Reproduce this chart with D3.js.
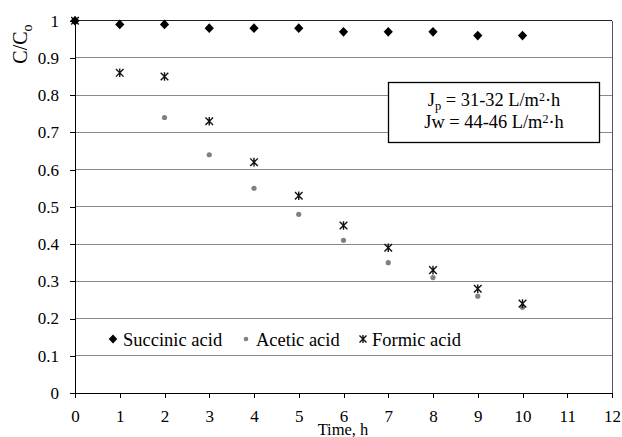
<!DOCTYPE html>
<html><head><meta charset="utf-8">
<script src="https://cdn.jsdelivr.net/npm/d3@7"></script>
<style>body{margin:0;background:#fff}svg{display:block}svg text{font-family:'Liberation Serif','Times New Roman',Times,serif !important}</style>
</head><body>
<svg id="c" width="622" height="437"></svg>
<script>
const hours = [0,1,2,3,4,5,6,7,8,9,10];
const succinic = [1,0.99,0.99,0.98,0.98,0.98,0.97,0.97,0.97,0.96,0.96];
const aceticHours = [0,2,3,4,5,6,7,8,9,10];
const acetic = [1,0.74,0.64,0.55,0.48,0.41,0.35,0.31,0.26,0.23];
const formic = [1,0.86,0.85,0.73,0.62,0.53,0.45,0.39,0.33,0.28,0.24];
const xTicks = [0,1,2,3,4,5,6,7,8,9,10,11,12];
const yTicks = [0,0.1,0.2,0.3,0.4,0.5,0.6,0.7,0.8,0.9,1];
const seriesNames = ["Succinic acid","Acetic acid","Formic acid"];

const svg = d3.select("#c");
const x = d3.scaleLinear().domain([0,12]).range([75,612]);
const y = d3.scaleLinear().domain([0,1]).range([393,20.7]);

// gridlines
svg.append("g").selectAll("line").data(yTicks.filter(d=>d>0)).join("line")
  .attr("x1",x(0)).attr("x2",x(12)).attr("y1",d=>y(d)).attr("y2",d=>y(d))
  .attr("stroke",d=>d===1?"#222":"#8a8a8a").attr("stroke-width",1).attr("shape-rendering","crispEdges");
svg.append("line").attr("x1",x(12)).attr("x2",x(12)).attr("y1",y(1)).attr("y2",y(0))
  .attr("stroke","#555").attr("shape-rendering","crispEdges");

// axes
const xAxis = d3.axisBottom(x).tickValues(xTicks).tickFormat(d3.format("d")).tickSize(5).tickPadding(12);
const gx = svg.append("g").attr("transform",`translate(0,${y(0)})`).call(xAxis);
const yAxis = d3.axisLeft(y).tickValues(yTicks).tickFormat(d=>d===0||d===1?String(d):d3.format(".1f")(d)).tickSize(5).tickPadding(11);
const gy = svg.append("g").attr("transform",`translate(${x(0)},0)`).call(yAxis);
[gx,gy].forEach(g=>{
  g.attr("font-family",null).attr("font-size",17);
  g.selectAll("path").attr("stroke","#000").attr("shape-rendering","crispEdges");
  g.selectAll("line").attr("stroke","#000").attr("shape-rendering","crispEdges");
  g.selectAll("text").attr("font-size",17).attr("fill","#000");
});
gx.select(".domain").attr("d",`M${x(0)},0H${x(12)}`);
gy.select(".domain").attr("d",`M0,${y(0)}V${y(1)}`);

// axis titles
svg.append("text").attr("x",343).attr("y",435).attr("text-anchor","middle").attr("font-size",16.5).text("Time, h");
const yl = svg.append("text").attr("transform","translate(27,44) rotate(-90)").attr("text-anchor","middle").attr("font-size",20);
yl.append("tspan").text("C/C");
yl.append("tspan").attr("font-size",14).attr("dy",5).text("o");

// annotation box
svg.append("rect").attr("x",388.5).attr("y",82.5).attr("width",211).attr("height",60)
  .attr("fill","#fff").attr("stroke","#000").attr("stroke-width",1.3);
const t1 = svg.append("text").attr("x",494).attr("y",105.5).attr("text-anchor","middle").attr("font-size",18.4);
t1.append("tspan").text("J");
t1.append("tspan").attr("font-size",12.5).attr("dy",4).text("p");
t1.append("tspan").attr("dy",-4).text(" = 31-32 L/m");
t1.append("tspan").attr("font-size",12).attr("dy",-5).text("2");
t1.append("tspan").attr("dy",5).text("·h");
const t2 = svg.append("text").attr("x",494).attr("y",128).attr("text-anchor","middle").attr("font-size",18.4);
t2.append("tspan").text("Jw = 44-46 L/m");
t2.append("tspan").attr("font-size",12).attr("dy",-5).text("2");
t2.append("tspan").attr("dy",5).text("·h");

// markers
const diamondPath = (w,h) => `M0,${-h}L${w},0L0,${h}L${-w},0Z`;
function drawStar(g, cx, cy, r){
  const p = `M${cx-r},${cy-r}L${cx+r},${cy+r}M${cx-r},${cy+r}L${cx+r},${cy-r}M${cx},${cy-r-0.5}L${cx},${cy+r+0.5}`;
  g.append("path").attr("d",p).attr("stroke","#111").attr("stroke-width",1.4).attr("fill","none");
}
svg.append("g").selectAll("circle").data(aceticHours.map((h,i)=>[h,acetic[i]])).join("circle")
  .attr("cx",d=>x(d[0])).attr("cy",d=>y(d[1])).attr("r",2.6).attr("fill","#808080");
const gf = svg.append("g");
hours.forEach((h,i)=>drawStar(gf, x(h), y(formic[i]), 3.8));
svg.append("g").selectAll("path").data(hours.map((h,i)=>[h,succinic[i]])).join("path")
  .attr("d",diamondPath(4.6,4.8)).attr("transform",d=>`translate(${x(d[0])},${y(d[1])})`).attr("fill","#000");

// legend
const ly = 340;
svg.append("path").attr("d",diamondPath(4.3,4.6)).attr("transform",`translate(113,${ly-1})`).attr("fill","#000");
svg.append("circle").attr("cx",246).attr("cy",ly-1).attr("r",2.3).attr("fill","#808080");
drawStar(svg, 363, ly-1, 3.5);
const lx = [123,256,372];
seriesNames.forEach((n,i)=>{
  svg.append("text").attr("x",lx[i]).attr("y",ly+6).attr("font-size",18.5).text(n);
});
</script>
</body></html>
